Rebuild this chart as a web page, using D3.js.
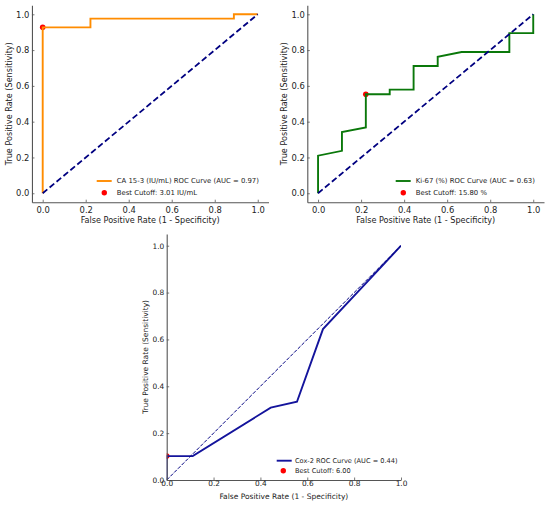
<!DOCTYPE html>
<html>
<head>
<meta charset="utf-8">
<script src="https://cdn.jsdelivr.net/npm/d3@7"></script>
<style>
  body { margin: 0; background: #fff; }
  svg { display: block; font-family: "DejaVu Sans", sans-serif; }
</style>
</head>
<body>
<div id="chart"></div>
<script>
var width = 550;
var height = 505;

// CA 15-3 ROC curve
var ca_fpr = [0, 0, 0.222, 0.222, 0.889, 0.889, 1];
var ca_tpr = [0, 0.927, 0.927, 0.976, 0.976, 1, 1];
var ca_best = [0, 0.927];
var ca_labels = ["CA 15-3 (IU/mL) ROC Curve (AUC = 0.97)", "Best Cutoff: 3.01 IU/mL"];

// Ki-67 ROC curve
var ki_fpr = [0, 0, 0.111, 0.111, 0.222, 0.222, 0.333, 0.333, 0.444, 0.444, 0.556, 0.556, 0.667, 0.889, 0.889, 1, 1];
var ki_tpr = [0, 0.21, 0.237, 0.342, 0.368, 0.553, 0.553, 0.579, 0.579, 0.711, 0.711, 0.763, 0.789, 0.789, 0.895, 0.895, 1];
var ki_best = [0.222, 0.553];
var ki_labels = ["Ki-67 (%) ROC Curve (AUC = 0.63)", "Best Cutoff: 15.80 %"];

// Cox-2 ROC curve
var cox_fpr = [0, 0, 0.111, 0.444, 0.556, 0.667, 1];
var cox_tpr = [0, 0.102, 0.102, 0.309, 0.334, 0.644, 1];
var cox_best = [0, 0.102];
var cox_labels = ["Cox-2 ROC Curve (AUC = 0.44)", "Best Cutoff: 6.00"];

var ticks = [0, 0.2, 0.4, 0.6, 0.8, 1.0];

var svg = d3.select("#chart").append("svg").attr("width", width).attr("height", height);

var panels = [
    {id: "p1", fpr: ca_fpr, tpr: ca_tpr, best: ca_best, labels: ca_labels, color: "#ff8c00",
     xdom: [-0.05, 1.05], ydom: [-0.05, 1.05], x0: 31.95, x1: 268.5, y0: 202.2, y1: 5.35,
     font: 8.4, labFont: 8.1, legFont: 6.9, diagW: 1.8, diagDash: "6,3",
     leg: {x: 96.7, y: 181}, xlabY: 223, ylabX: 9, tickPad: 8, ylabPad: 2.5},
    {id: "p2", fpr: ki_fpr, tpr: ki_tpr, best: ki_best, labels: ki_labels, color: "#0a780a",
     xdom: [-0.05, 1.05], ydom: [-0.05, 1.05], x0: 307.3, x1: 544, y0: 202.2, y1: 5.35,
     font: 8.4, labFont: 8.1, legFont: 6.9, diagW: 1.8, diagDash: "6,3",
     leg: {x: 395.7, y: 181}, xlabY: 223, ylabX: 284.5, tickPad: 8, ylabPad: 2.5},
    {id: "p3", fpr: cox_fpr, tpr: cox_tpr, best: cox_best, labels: cox_labels, color: "#14149c",
     xdom: [0, 1], ydom: [0, 1.05], x0: 166.7, x1: 401, y0: 480, y1: 234,
     font: 7.4, labFont: 7.5, legFont: 6.6, diagW: 1, diagDash: "3.7,1.6",
     leg: {x: 276.7, y: 460.7}, xlabY: 499, ylabX: 145.5, tickPad: 3.7, ylabPad: 2.5}
];

panels.forEach(function(p) {
    var x = d3.scaleLinear().domain(p.xdom).range([p.x0, p.x1]);
    var y = d3.scaleLinear().domain(p.ydom).range([p.y0, p.y1]);
    var g = svg.append("g").attr("class", p.id);

    g.append("clipPath").attr("id", "clip_" + p.id)
        .append("rect")
        .attr("x", p.x0).attr("y", p.y1)
        .attr("width", p.x1 - p.x0).attr("height", p.y0 - p.y1);

    var plot = g.append("g").attr("clip-path", "url(#clip_" + p.id + ")");

    // best cutoff point (under the curve like matplotlib)
    plot.append("circle")
        .attr("cx", x(p.best[0]))
        .attr("cy", y(p.best[1]))
        .attr("r", 2.8)
        .attr("fill", "#ff0000");

    var line = d3.line().x(d => x(d[0])).y(d => y(d[1]));
    var pts = p.fpr.map((f, i) => [f, p.tpr[i]]);

    plot.append("path")
        .attr("d", line(pts))
        .attr("fill", "none")
        .attr("stroke", p.color)
        .attr("stroke-width", 1.9)
        .attr("stroke-linejoin", "miter");

    plot.append("path")
        .attr("d", line([[0, 0], [1, 1]]))
        .attr("fill", "none")
        .attr("stroke", "#000080")
        .attr("stroke-width", p.diagW)
        .attr("stroke-dasharray", p.diagDash);

    // axes: only left and bottom spine, ticks inward
    var xAxis = d3.axisBottom(x).tickValues(ticks).tickFormat(d3.format(".1f"))
        .tickSizeInner(-2.5).tickSizeOuter(0).tickPadding(p.tickPad);
    var yAxis = d3.axisLeft(y).tickValues(ticks).tickFormat(d3.format(".1f"))
        .tickSizeInner(-2.5).tickSizeOuter(0).tickPadding(p.ylabPad);

    var gx = g.append("g").attr("transform", "translate(0," + p.y0 + ")").call(xAxis);
    var gy = g.append("g").attr("transform", "translate(" + p.x0 + ",0)").call(yAxis);
    [gx, gy].forEach(function(a) {
        a.select(".domain").attr("stroke", "#555").attr("stroke-width", 1.1);
        a.selectAll(".tick line").attr("stroke", "#555").attr("stroke-width", 0.8);
        a.selectAll(".tick text").attr("fill", "#222").style("font-size", p.font + "px")
            .style("font-family", "DejaVu Sans");
    });
    gx.selectAll(".tick text").attr("dy", "0.35em").attr("y", p.tickPad);

    g.append("text")
        .attr("x", (p.x0 + p.x1) / 2)
        .attr("y", p.xlabY)
        .attr("text-anchor", "middle")
        .attr("fill", "#222")
        .style("font-size", p.labFont + "px")
        .text("False Positive Rate (1 - Specificity)");

    g.append("text")
        .attr("transform", "translate(" + p.ylabX + "," + (p.y0 + p.y1) / 2 + ") rotate(-90)")
        .attr("text-anchor", "middle")
        .attr("dy", "0.35em")
        .attr("fill", "#222")
        .style("font-size", p.labFont + "px")
        .text("True Positive Rate (Sensitivity)");

    // legend without frame
    var lg = g.append("g").attr("transform", "translate(" + p.leg.x + "," + p.leg.y + ")");
    lg.append("line").attr("x1", 0).attr("x2", 15).attr("y1", 0).attr("y2", 0)
        .attr("stroke", p.color).attr("stroke-width", 1.9);
    lg.append("text").attr("x", p.id == "p3" ? 18.3 : 20).attr("y", 0).attr("dy", "0.35em")
        .attr("fill", "#222").style("font-size", p.legFont + "px").text(p.labels[0]);
    var rowGap = p.id == "p3" ? 10 : 11.7;
    lg.append("circle").attr("cx", p.id == "p3" ? 6.6 : 7.6).attr("cy", rowGap).attr("r", 2.7).attr("fill", "#ff0000");
    lg.append("text").attr("x", p.id == "p3" ? 18.3 : 20).attr("y", rowGap).attr("dy", "0.35em")
        .attr("fill", "#222").style("font-size", p.legFont + "px").text(p.labels[1]);
});
</script>
</body>
</html>
